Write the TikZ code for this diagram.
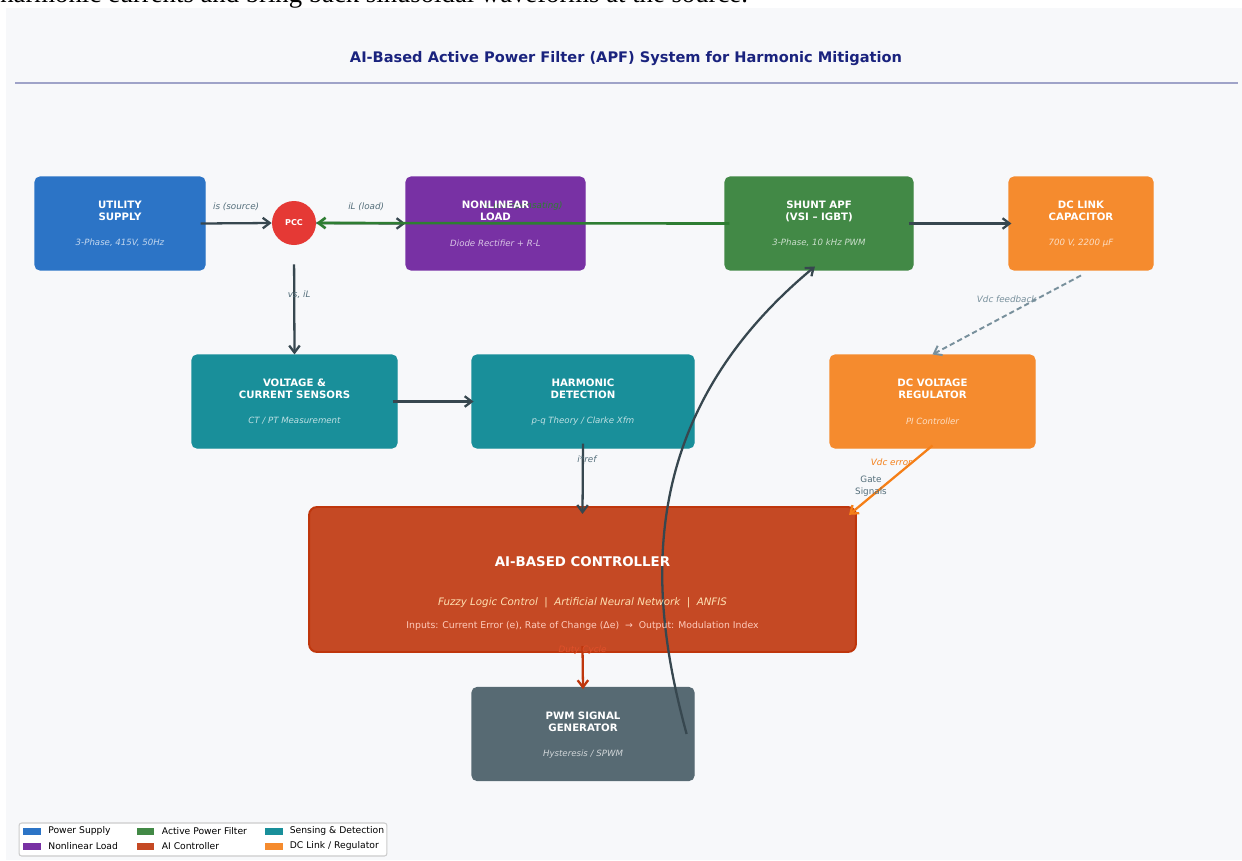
\documentclass[tikz,border=0pt]{standalone}
\usepackage{fontspec}
\setmainfont{DejaVu Sans}
\newfontfamily\pageserif{Liberation Serif}
\usetikzlibrary{arrows.meta,calc}

\definecolor{panelbg}{HTML}{F7F8FA}
\definecolor{titlenavy}{HTML}{1A237E}
\definecolor{supplyblue}{HTML}{1565C0}
\definecolor{loadpurple}{HTML}{6A1B9A}
\definecolor{filtergreen}{HTML}{2E7D32}
\definecolor{aired}{HTML}{BF360C}
\definecolor{senseteal}{HTML}{00838F}
\definecolor{linkorange}{HTML}{F57F17}
\definecolor{pwmslate}{HTML}{455A64}
\definecolor{pccred}{HTML}{E53935}
\definecolor{edgegray}{HTML}{37474F}
\definecolor{dashgray}{HTML}{78909C}
\definecolor{labelgray}{HTML}{546E7A}
\definecolor{fuzzytext}{HTML}{FFE0B2}
\definecolor{inputtext}{HTML}{FFCCBC}
\definecolor{dutyred}{HTML}{E0502A}

\begin{document}
\begin{tikzpicture} [
                x=0.02cm, y=-0.02cm,
                block/.style={rectangle,rounded corners=2.8pt,fill=#1!90!panelbg,draw=#1!90!panelbg,line width=0.6pt,inner sep=0pt},
                block title/.style={text=white,align=center,font=\bfseries\fontsize{5.8}{6.8}\selectfont},
                block note/.style={text=white,text opacity=0.72,font=\itshape\fontsize{4.9}{6}\selectfont},
                arrow edge/.style = {draw=edgegray,line width=1.3pt,-{Straight Barb[length=4pt,width=6pt]}},
                feedback edge/.style = {draw=dashgray,line width=1.1pt,dash pattern=on 3pt off 1.8pt,-{Straight Barb[length=4pt,width=6pt]}},
                arrow label/.style = {text=labelgray,font=\itshape\fontsize{5}{6}\selectfont},
                legend swatch/.style={rectangle,fill=#1!90!panelbg,minimum width=0.36cm,minimum height=0.14cm,inner sep=0pt},
            ]
            \useasboundingbox (0,0) rectangle (1242,860);
            \fill[white] (0,0) rectangle (1242,860);
            \node[anchor=base west,inner sep=0pt,font=\pageserif\fontsize{15.2}{17}\selectfont] (pagetext) at (0,2.5)
                {harmonic currents and bring back sinusoidal waveforms at the source.};
            \fill[panelbg] (6,8) rectangle (1242,860);

            % title
            \node[text=titlenavy,font=\bfseries\fontsize{8.3}{9}\selectfont] (title) at (626,59)
                {AI-Based Active Power Filter (APF) System for Harmonic Mitigation};
            \draw[titlenavy!40!panelbg,line width=1.2pt] (15,83) -- (1238,83);

            % blocks
            \foreach \pos/\name/\col/\w in {
            {(120,223.5)/utility/supplyblue/170}, {(495.5,223.5)/load/loadpurple/179},
            {(819,223.5)/apf/filtergreen/188}, {(1081,223.5)/dclink/linkorange/144},
            {(294.5,401.5)/sensors/senseteal/205}, {(583,401.5)/harmonic/senseteal/222},
            {(932.5,401.5)/regulator/linkorange/205}, {(583,734)/pwm/pwmslate/222}}
                \node[block=\col,minimum width=\w*0.02cm,minimum height=1.86cm] (\name) at \pos {};
            \node[block=aired,draw=aired,line width=1.1pt,rounded corners=4.5pt,
                minimum width=10.94cm,minimum height=2.9cm] (controller) at (582.5,579.5) {};
            \node[circle,fill=pccred,minimum size=0.88cm,inner sep=0pt,text=white,
                font=\bfseries\fontsize{4.6}{5}\selectfont] (pcc) at (294,223) {PCC};

            % connectors
            \path ([xshift=-2.8pt]utility.east) edge[arrow edge] node[arrow label,yshift=9.6pt] {is (source)} (pcc.west);
            \path (pcc.east) edge[arrow edge] node[arrow label,xshift=3pt,yshift=9.6pt] {iL (load)} (load.west);
            \path ([xshift=2.8pt]apf.west) edge[arrow edge,draw=filtergreen,line width=1.5pt]
                node[arrow label,text=filtergreen,yshift=9.6pt] {ic (compensating)} (pcc.east);
            \path ([xshift=-2.8pt]apf.east) edge[arrow edge] ([xshift=1.7pt]dclink.west);
            \path ([yshift=-2.8pt]dclink.south) edge[feedback edge] node[arrow label,text=dashgray,yshift=9pt] {Vdc feedback} (regulator.north);
            \path (pcc.south) edge[arrow edge,shorten <=10.8pt] node[arrow label,pos=0.45,xshift=2.8pt] {vs, iL} (sensors.north);
            \path ([xshift=-2.8pt]sensors.east) edge[arrow edge] ([xshift=1.2pt]harmonic.west);
            \path ([yshift=2.8pt]harmonic.south) edge[arrow edge] node[arrow label,pos=0.22,xshift=2.3pt] {i*ref} ([yshift=-4.5pt]controller.north);
            \path ([yshift=1.7pt]regulator.south) edge[arrow edge,draw=linkorange]
                node[arrow label,text=linkorange,pos=0.24,xshift=-12pt] {Vdc error} ([xshift=-4.5pt,yshift=-5pt]controller.north east);
            \path ([yshift=3.9pt]controller.south) edge[arrow edge,draw=aired]
                node[arrow label,text=dutyred,pos=0.1] {Duty Cycle} ([yshift=-1.2pt]pwm.north);
            \draw[arrow edge] ([xshift=-4.5pt]pwm.east) .. controls (650,600) and (630,420) .. ([xshift=-2.3pt,yshift=2.3pt]apf.south);
            \node[text=labelgray,align=center,font=\fontsize{5}{6.6}\selectfont] (gatelabel) at (871,486) {Gate\\Signals};

            % block texts
            \foreach \name/\head/\note in {
            {utility/{UTILITY\\SUPPLY}/{3-Phase, 415V, 50Hz}},
            {load/{NONLINEAR\\LOAD}/{Diode Rectifier + R-L}},
            {apf/{SHUNT APF\\(VSI – IGBT)}/{3-Phase, 10 kHz PWM}},
            {dclink/{DC LINK\\CAPACITOR}/{700 V, 2200 µF}},
            {sensors/{VOLTAGE \&\\CURRENT SENSORS}/{CT / PT Measurement}},
            {harmonic/{HARMONIC\\DETECTION}/{p-q Theory / Clarke Xfm}},
            {regulator/{DC VOLTAGE\\REGULATOR}/{PI Controller}}}
            {
                \node[block title] at ($(\name.center)+(0,-12.5)$) {\head};
                \node[block note] at ($(\name.center)+(0,19.5)$) {\note};
            }
            \node[block title] at ($(pwm.center)+(0,-12.5)$) {PWM SIGNAL\\GENERATOR};
            \node[block note] at ($(pwm.center)+(0,20)$) {Hysteresis / SPWM};
            \node[text=white,font=\bfseries\fontsize{7.6}{8}\selectfont] at ($(controller.center)+(0,-17.5)$) {AI-BASED CONTROLLER};
            \node[text=fuzzytext,font=\itshape\fontsize{5.85}{7}\selectfont] at ($(controller.center)+(0,23.5)$)
                {Fuzzy Logic Control \ | \ Artificial Neural Network \ | \ ANFIS};
            \node[text=inputtext,font=\fontsize{5.3}{6.5}\selectfont] at ($(controller.center)+(0,46.5)$)
                {Inputs: Current Error (e), Rate of Change (Δe) \ → \ Output: Modulation Index};

            % legend
            \node[draw=black!20,fill=white,rounded corners=1.5pt,line width=0.6pt,
                minimum width=7.36cm,minimum height=0.66cm] (legend) at (203,839.5) {};
            \foreach \x/\y/\col/\txt in {
            {32/831/supplyblue/Power Supply}, {32/846/loadpurple/Nonlinear Load},
            {145.5/831/filtergreen/Active Power Filter}, {145.5/846/aired/AI Controller},
            {273.5/831/senseteal/Sensing \& Detection}, {273.5/846/linkorange/{DC Link / Regulator}}}
            {
                \node[legend swatch=\col] at (\x,\y) {};
                \node[anchor=west,inner sep=0pt,font=\fontsize{5.25}{6}\selectfont] at (\x+16,\y) {\txt};
            }
        \end{tikzpicture}
\end{document}
